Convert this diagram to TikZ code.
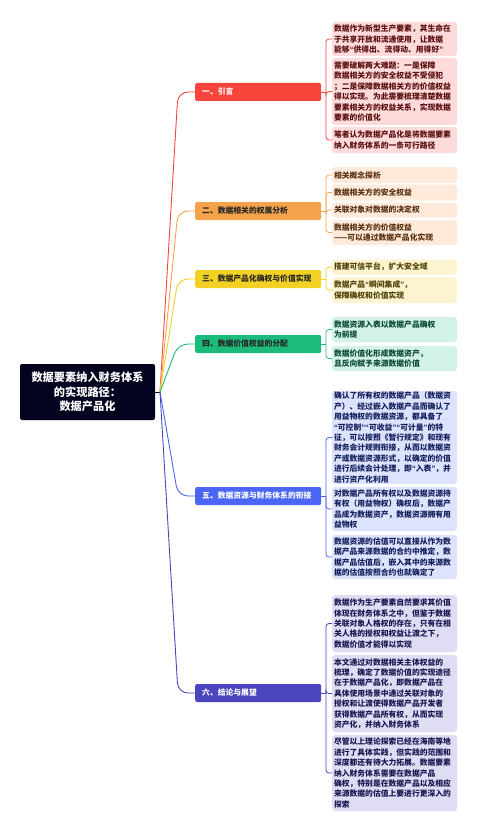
\documentclass[tikz,border=0pt]{standalone}
\usepackage{fontspec}
\setmainfont{Noto Sans CJK SC}
\newfontfamily\qfont{Liberation Sans}
\newcommand\qqo{{\qfont\bfseries “}}
\newcommand\qqc{{\qfont\bfseries ”}}
\definecolor{rootC}{HTML}{03031F}
\definecolor{rB}{HTML}{F7453B}\definecolor{rL}{HTML}{FDDBDB}\definecolor{rT}{HTML}{5B0F0F}
\definecolor{oB}{HTML}{F5A24C}\definecolor{oL}{HTML}{FDEADB}\definecolor{oT}{HTML}{5A3110}
\definecolor{yB}{HTML}{F2D024}\definecolor{yL}{HTML}{FCF4D0}\definecolor{yT}{HTML}{4F4306}
\definecolor{gB}{HTML}{1CBB7B}\definecolor{gL}{HTML}{D3F2E6}\definecolor{gT}{HTML}{0A4A33}
\definecolor{bB}{HTML}{4B66F5}\definecolor{bL}{HTML}{DDE3FD}\definecolor{bT}{HTML}{13205C}
\definecolor{iB}{HTML}{4B46BE}\definecolor{iL}{HTML}{DEDDF3}\definecolor{iT}{HTML}{1A1750}
\begin{document}
\begin{tikzpicture}[x=1pt,y=-1pt,
  leaf/.style={rounded corners=3pt, text width=121pt, inner xsep=2pt, inner ysep=1pt, align=left, font=\fontsize{7.8}{10.4}\selectfont\bfseries, anchor=center},
  branch/.style={rounded corners=2pt, text width=112pt, inner xsep=7pt, inner ysep=0pt, minimum height=18pt, align=left, font=\fontsize{7.8}{9}\selectfont\bfseries, anchor=west},
  rootbox/.style={rounded corners=2pt, fill=rootC, text=white, minimum width=135pt, minimum height=56pt, align=center, font=\fontsize{11.2}{14.5}\selectfont\bfseries},
  trunk/.style={line width=0.9pt, rounded corners=10pt},
  brack/.style={line width=0.8pt, rounded corners=3pt}]
\useasboundingbox (0,0) rectangle (477,832);

% root
\node[rootbox] (root) at (87.5,392) {数据要素纳入财务体系\\的实现路径：\\数据产品化};
\coordinate (hub) at (160,392);

% branches
\node[branch, fill=rB, text=white] (b1) at (195,92) {一、引言};
\node[branch, fill=oB, text=black!85] (b2) at (195,211) {二、数据相关的权属分析};
\node[branch, fill=yB, text=black!85] (b3) at (195,279) {三、数据产品化确权与价值实现};
\node[branch, fill=gB, text=black!85] (b4) at (195,344) {四、数据价值权益的分配};
\node[branch, fill=bB, text=white] (b5) at (195,496) {五、数据资源与财务体系的衔接};
\node[branch, fill=iB, text=white] (b6) at (195,693) {六、结论与展望};

\coordinate (k1) at (178,92);
\coordinate (k2) at (178,211);
\coordinate (k3) at (178,279);
\coordinate (k4) at (178,344);
\coordinate (k5) at (178,496);
\coordinate (k6) at (178,693);

\draw[line width=0.9pt, rootC] (root.east) -- (hub);
\draw[trunk, rB] (hub) -- (k1) -- (b1.west);
\draw[trunk, oB] (hub) -- (k2) -- (b2.west);
\draw[trunk, yB] (hub) -- (k3) -- (b3.west);
\draw[trunk, gB] (hub) -- (k4) -- (b4.west);
\draw[trunk, bB] (hub) -- (k5) -- (b5.west);
\draw[trunk, iB] (hub) -- (k6) -- (b6.west);

% leaves: section 1
\node[leaf, fill=rL, text=rT, minimum height=34pt] (a11) at (394.5,39) {数据作为新型生产要素，其生命在\\于共享开放和流通使用，让数据\\能够\qqo 供得出、流得动、用得好\qqc};
\node[leaf, fill=rL, text=rT, minimum height=67pt] (a12) at (394.5,91.5) {需要破解两大难题：一是保障\\数据相关方的安全权益不受侵犯\\；二是保障数据相关方的价值权益\\得以实现。为此需要梳理清楚数据\\要素相关方的权益关系，实现数据\\要素的价值化};
\node[leaf, fill=rL, text=rT, minimum height=26pt] (a13) at (394.5,140) {笔者认为数据产品化是将数据要素\\纳入财务体系的一条可行路径};
\coordinate (j1) at (326,92);
\draw[line width=0.8pt, rB] (b1.east) -- (j1);
\foreach \n in {a11,a12,a13} \draw[brack, rB] (j1) -- (j1 |- \n.west) -- (\n.west);

% section 2
\node[leaf, fill=oL, text=oT, minimum height=16pt] (a21) at (394.5,175) {相关概念探析};
\node[leaf, fill=oL, text=oT, minimum height=16pt] (a22) at (394.5,192.5) {数据相关方的安全权益};
\node[leaf, fill=oL, text=oT, minimum height=15pt] (a23) at (394.5,210) {关联对象对数据的决定权};
\node[leaf, fill=oL, text=oT, minimum height=25pt] (a24) at (394.5,232.5) {数据相关方的价值权益\\——可以通过数据产品化实现};
\coordinate (j2) at (326,211);
\draw[line width=0.8pt, oB] (b2.east) -- (j2);
\foreach \n in {a21,a22,a23,a24} \draw[brack, oB] (j2) -- (j2 |- \n.west) -- (\n.west);

% section 3
\node[leaf, fill=yL, text=yT, minimum height=15pt] (a31) at (394.5,267) {搭建可信平台，扩大安全域};
\node[leaf, fill=yL, text=yT, minimum height=26pt] (a32) at (394.5,290) {数据产品\qqo 瞬间集成\qqc ，\\保障确权和价值实现};
\coordinate (j3) at (326,279);
\draw[line width=0.8pt, yB] (b3.east) -- (j3);
\foreach \n in {a31,a32} \draw[brack, yB] (j3) -- (j3 |- \n.west) -- (\n.west);

% section 4
\node[leaf, fill=gL, text=gT, minimum height=25pt] (a41) at (394.5,329.5) {数据资源入表以数据产品确权\\为前提};
\node[leaf, fill=gL, text=gT, minimum height=25pt] (a42) at (394.5,358.5) {数据价值化形成数据资产，\\且反向赋予来源数据价值};
\coordinate (j4) at (326,344);
\draw[line width=0.8pt, gB] (b4.east) -- (j4);
\foreach \n in {a41,a42} \draw[brack, gB] (j4) -- (j4 |- \n.west) -- (\n.west);

% section 5
\node[leaf, fill=bL, text=bT, minimum height=89pt] (a51) at (394.5,437.5) {确认了所有权的数据产品（数据资\\产）、经过嵌入数据产品而确认了\\用益物权的数据资源，都具备了\\\qqo 可控制\qqc\qqo 可收益\qqc\qqo 可计量\qqc 的特\\征，可以按照《暂行规定》和现有\\财务会计规则衔接，从而以数据资\\产或数据资源形式，以确定的价值\\进行后续会计处理，即\qqo 入表\qqc ，并\\进行资产化利用};
\node[leaf, fill=bL, text=bT, minimum height=44pt] (a52) at (394.5,509) {对数据产品所有权以及数据资源持\\有权（用益物权）确权后，数据产\\品成为数据资产，数据资源拥有用\\益物权};
\node[leaf, fill=bL, text=bT, minimum height=44pt] (a53) at (394.5,557) {数据资源的估值可以直接从作为数\\据产品来源数据的合约中推定，数\\据产品估值后，嵌入其中的来源数\\据的估值按照合约也就确定了};
\coordinate (j5) at (326,496);
\draw[line width=0.8pt, bB] (b5.east) -- (j5);
\foreach \n in {a51,a52,a53} \draw[brack, bB] (j5) -- (j5 |- \n.west) -- (\n.west);

% section 6
\node[leaf, fill=iL, text=iT, minimum height=57pt] (a61) at (394.5,623.5) {数据作为生产要素自然要求其价值\\体现在财务体系之中，但鉴于数据\\关联对象人格权的存在，只有在相\\关人格的授权和权益让渡之下，\\数据价值才能得以实现};
\node[leaf, fill=iL, text=iT, minimum height=77pt] (a62) at (394.5,693.5) {本文通过对数据相关主体权益的\\梳理，确定了数据价值的实现途径\\在于数据产品化，即数据产品在\\具体使用场景中通过关联对象的\\授权和让渡使得数据产品开发者\\获得数据产品所有权，从而实现\\资产化，并纳入财务体系};
\node[leaf, fill=iL, text=iT, minimum height=76pt] (a63) at (394.5,773) {尽管以上理论探索已经在海南等地\\进行了具体实践，但实践的范围和\\深度都还有待大力拓展。数据要素\\纳入财务体系需要在数据产品\\确权，特别是在数据产品以及相应\\来源数据的估值上要进行更深入的\\探索};
\coordinate (j6) at (326,693);
\draw[line width=0.8pt, iB] (b6.east) -- (j6);
\foreach \n in {a61,a62,a63} \draw[brack, iB] (j6) -- (j6 |- \n.west) -- (\n.west);
\end{tikzpicture}
\end{document}
